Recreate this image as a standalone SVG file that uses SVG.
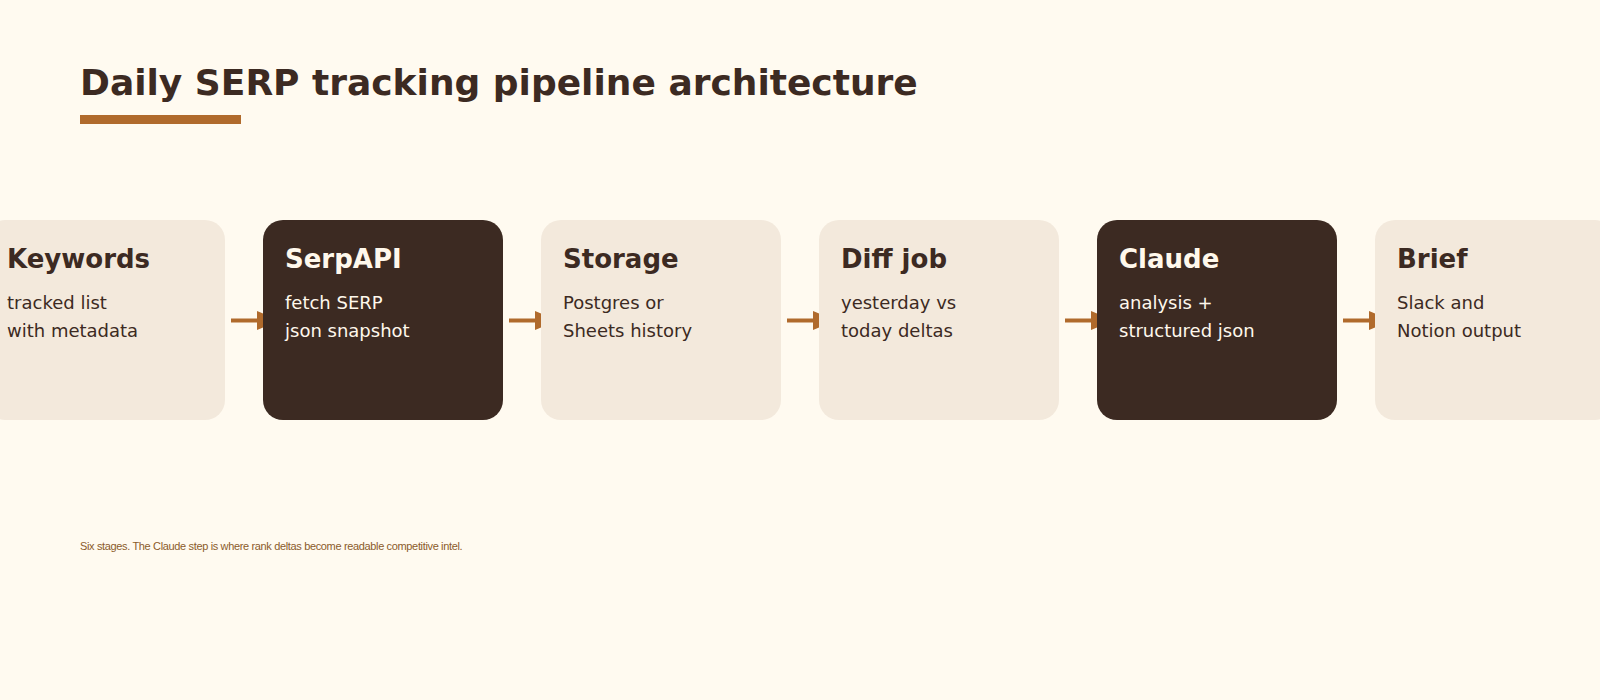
<svg xmlns="http://www.w3.org/2000/svg" width="1600" height="700" viewBox="0 0 1600 700">
<style>
.bg{fill:#fffaf0}
.light{fill:#f3e9dc}
.dark{fill:#3c2a22}
.t{font-family:"DejaVu Sans",sans-serif;font-weight:bold;font-size:26px}
.s{font-family:"DejaVu Sans",sans-serif;font-size:18px}
.light-t{fill:#3c2a22}
.dark-t{fill:#fff8ec}
.conn line{stroke:#b06a2c;stroke-width:4}
.conn polygon{fill:#b06a2c}
</style>
<rect class="bg" x="0" y="0" width="1600" height="700"/>
<g id="title">
<text x="80" y="95" font-family="DejaVu Sans, sans-serif" font-weight="bold" font-size="36" fill="#3c2a22">Daily SERP tracking pipeline architecture</text>
<rect x="80" y="115" width="161" height="9" fill="#b06a2c"/>
</g>
<g id="connectors" class="conn">
<line x1="231" y1="320.5" x2="258" y2="320.5"/>
<polygon points="257,311 280,320.5 257,330"/>
<line x1="509" y1="320.5" x2="536" y2="320.5"/>
<polygon points="535,311 558,320.5 535,330"/>
<line x1="787" y1="320.5" x2="814" y2="320.5"/>
<polygon points="813,311 836,320.5 813,330"/>
<line x1="1065" y1="320.5" x2="1092" y2="320.5"/>
<polygon points="1091,311 1114,320.5 1091,330"/>
<line x1="1343" y1="320.5" x2="1370" y2="320.5"/>
<polygon points="1369,311 1392,320.5 1369,330"/>
</g>
<g id="node-keywords">
<rect class="light" x="-15" y="220" width="240" height="200" rx="20"/>
<text class="t light-t" x="7" y="268">Keywords</text>
<text class="s light-t" x="7" y="309">tracked list</text>
<text class="s light-t" x="7" y="337">with metadata</text>
</g>
<g id="node-serpapi">
<rect class="dark" x="263" y="220" width="240" height="200" rx="20"/>
<text class="t dark-t" x="285" y="268">SerpAPI</text>
<text class="s dark-t" x="285" y="309">fetch SERP</text>
<text class="s dark-t" x="285" y="337">json snapshot</text>
</g>
<g id="node-storage">
<rect class="light" x="541" y="220" width="240" height="200" rx="20"/>
<text class="t light-t" x="563" y="268">Storage</text>
<text class="s light-t" x="563" y="309">Postgres or</text>
<text class="s light-t" x="563" y="337">Sheets history</text>
</g>
<g id="node-diff">
<rect class="light" x="819" y="220" width="240" height="200" rx="20"/>
<text class="t light-t" x="841" y="268">Diff job</text>
<text class="s light-t" x="841" y="309">yesterday vs</text>
<text class="s light-t" x="841" y="337">today deltas</text>
</g>
<g id="node-claude">
<rect class="dark" x="1097" y="220" width="240" height="200" rx="20"/>
<text class="t dark-t" x="1119" y="268">Claude</text>
<text class="s dark-t" x="1119" y="309">analysis +</text>
<text class="s dark-t" x="1119" y="337">structured json</text>
</g>
<g id="node-brief">
<rect class="light" x="1375" y="220" width="240" height="200" rx="20"/>
<text class="t light-t" x="1397" y="268">Brief</text>
<text class="s light-t" x="1397" y="309">Slack and</text>
<text class="s light-t" x="1397" y="337">Notion output</text>
</g>
<text id="footnote" x="80" y="550" font-family="Liberation Sans, Arial, sans-serif" font-size="11" letter-spacing="-0.35" fill="#8b5a2b">Six stages. The Claude step is where rank deltas become readable competitive intel.</text>
</svg>
